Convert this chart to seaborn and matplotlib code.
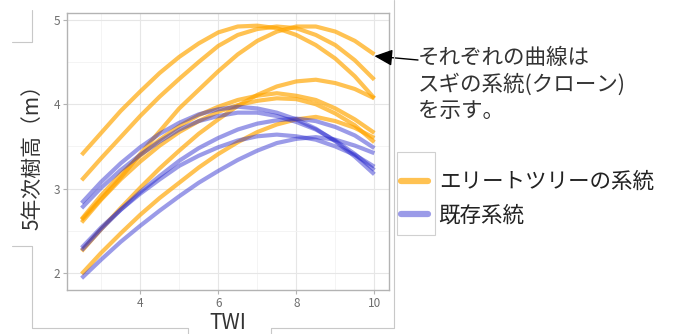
import matplotlib

matplotlib.use("Agg")
import matplotlib.pyplot as plt
import pandas as pd
import seaborn as sns
from matplotlib.lines import Line2D
from matplotlib.patches import Rectangle

twi = [2.5, 3.0, 3.5, 4.0, 4.5, 5.0, 5.5, 6.0, 6.5, 7.0, 7.5, 8.0, 8.5, 9.0, 9.5, 10.0]

# predicted 5-year height (m) for each elite-tree clone
elite_lines = [
    [3.40, 3.66, 3.92, 4.15, 4.37, 4.56, 4.72, 4.85, 4.92, 4.93, 4.90, 4.82, 4.70, 4.54, 4.33, 4.07],
    [3.10, 3.36, 3.61, 3.86, 4.09, 4.30, 4.50, 4.69, 4.82, 4.89, 4.92, 4.90, 4.82, 4.70, 4.52, 4.29],
    [2.63, 2.88, 3.13, 3.41, 3.68, 3.95, 4.17, 4.39, 4.59, 4.75, 4.86, 4.92, 4.92, 4.86, 4.75, 4.59],
    [2.26, 2.52, 2.77, 3.01, 3.24, 3.45, 3.65, 3.82, 3.98, 4.11, 4.21, 4.27, 4.29, 4.25, 4.18, 4.07],
    [2.64, 2.92, 3.17, 3.39, 3.58, 3.74, 3.87, 3.97, 4.05, 4.10, 4.13, 4.10, 4.05, 3.95, 3.82, 3.66],
    [2.60, 2.87, 3.11, 3.32, 3.51, 3.67, 3.80, 3.91, 3.99, 4.04, 4.07, 4.06, 4.00, 3.89, 3.75, 3.55],
    [1.99, 2.24, 2.47, 2.69, 2.89, 3.07, 3.25, 3.41, 3.55, 3.67, 3.76, 3.82, 3.85, 3.80, 3.72, 3.60],
]

# predicted 5-year height (m) for each existing clone
existing_lines = [
    [2.83, 3.08, 3.30, 3.49, 3.65, 3.78, 3.88, 3.94, 3.97, 3.95, 3.90, 3.82, 3.71, 3.56, 3.38, 3.17],
    [2.77, 3.01, 3.22, 3.40, 3.56, 3.70, 3.80, 3.86, 3.90, 3.90, 3.86, 3.79, 3.70, 3.57, 3.41, 3.22],
    [2.27, 2.52, 2.75, 2.96, 3.15, 3.33, 3.48, 3.60, 3.70, 3.77, 3.81, 3.83, 3.80, 3.73, 3.63, 3.48],
    [2.30, 2.54, 2.75, 2.94, 3.11, 3.27, 3.39, 3.49, 3.57, 3.62, 3.64, 3.62, 3.58, 3.50, 3.40, 3.26],
    [1.94, 2.16, 2.37, 2.56, 2.74, 2.91, 3.07, 3.21, 3.34, 3.45, 3.54, 3.59, 3.61, 3.58, 3.51, 3.42],
]

group_names = ["エリートツリーの系統", "既存系統"]
group_colors = ["#FFA500", "#2323CC"]
group_alpha = [0.68, 0.45]

W, H = 675, 334


def px(x, y):
    return x / W, 1 - y / H


rows = []
for gname, lines in zip(group_names, [elite_lines, existing_lines]):
    for i, vals in enumerate(lines):
        for x, v in zip(twi, vals):
            rows.append({"TWI": x, "height": v, "clone": f"{gname}{i}", "group": gname})
df = pd.DataFrame(rows)

sns.set_theme(style="white")
plt.rcParams["font.family"] = ["Noto Sans CJK JP", "DejaVu Sans"]

fig = plt.figure(figsize=(W / 100, H / 100), dpi=100)
ax = fig.add_axes([67 / W, 1 - 290 / H, (389 - 67) / W, (290 - 13) / H])

for gname, color, alpha in zip(group_names, group_colors, group_alpha):
    sns.lineplot(
        data=df[df["group"] == gname],
        x="TWI",
        y="height",
        units="clone",
        estimator=None,
        color=color,
        alpha=alpha,
        lw=3.0,
        solid_capstyle="butt",
        solid_joinstyle="round",
        legend=False,
        ax=ax,
    )

ax.set_xlim(2.125, 10.375)
ax.set_ylim(1.80, 5.08)
ax.set_xticks([4, 6, 8, 10])
ax.set_yticks([2, 3, 4, 5])
ax.set_xticks([3, 5, 7, 9], minor=True)
ax.set_yticks([2.5, 3.5, 4.5], minor=True)
ax.grid(which="major", color="#E6E6E6", lw=0.8)
ax.grid(which="minor", color="#F2F2F2", lw=0.6)
ax.set_axisbelow(True)
for s in ax.spines.values():
    s.set_color("#B3B3B3")
    s.set_linewidth(1.0)
ax.tick_params(which="major", length=3, width=0.8, color="#B3B3B3",
               labelsize=8.5, labelcolor="#6E6E6E", pad=2, left=True, bottom=True)
ax.tick_params(which="minor", length=0)
ax.set_xlabel("TWI", fontsize=15, color="#333333", labelpad=1.5)
ax.set_ylabel("5年次樹高（m）", fontsize=15, color="#333333", labelpad=7)

# arrow and note on the right
ax.annotate(
    "",
    xy=(10.0, 4.57),
    xycoords="data",
    xytext=px(418, 60),
    textcoords="figure fraction",
    arrowprops=dict(arrowstyle="-|>,head_length=0.55,head_width=0.25",
                    mutation_scale=20, color="black", lw=1.0, shrinkA=0, shrinkB=0),
)
fig.text(*px(418, 47), "それぞれの曲線は\nスギの系統(クローン)\nを示す。", fontsize=15.5,
         color="#333333", ha="left", va="top", linespacing=1.25)

# legend
handles = [Line2D([], [], color=c, alpha=a, lw=4.5) for c, a in zip(group_colors, group_alpha)]
fig.legend(handles, group_names, loc="center left", bbox_to_anchor=px(401, 199),
           frameon=False, fontsize=15.5, handlelength=1.25, handletextpad=0.5,
           borderpad=0, borderaxespad=0, labelspacing=0.55, labelcolor="#222222")
fig.add_artist(Rectangle(px(397, 235), 38 / W, 83 / H, transform=fig.transFigure,
                         fill=False, edgecolor="#D0D0D0", lw=0.8))

# leftover slide frame lines
frame_segments = [
    ([12, 32, 32], [42, 42, 10]),
    ([12, 32, 32, 188, 188], [246, 246, 328, 328, 334]),
    ([271, 271, 394, 394], [334, 328, 328, 0]),
]
for xs, ys in frame_segments:
    pts = [px(x, y) for x, y in zip(xs, ys)]
    fig.add_artist(Line2D([p[0] for p in pts], [p[1] for p in pts],
                          transform=fig.transFigure, color="#C8C8C8", lw=0.8))

fig.savefig("out.png", dpi=100)
plt.close(fig)
